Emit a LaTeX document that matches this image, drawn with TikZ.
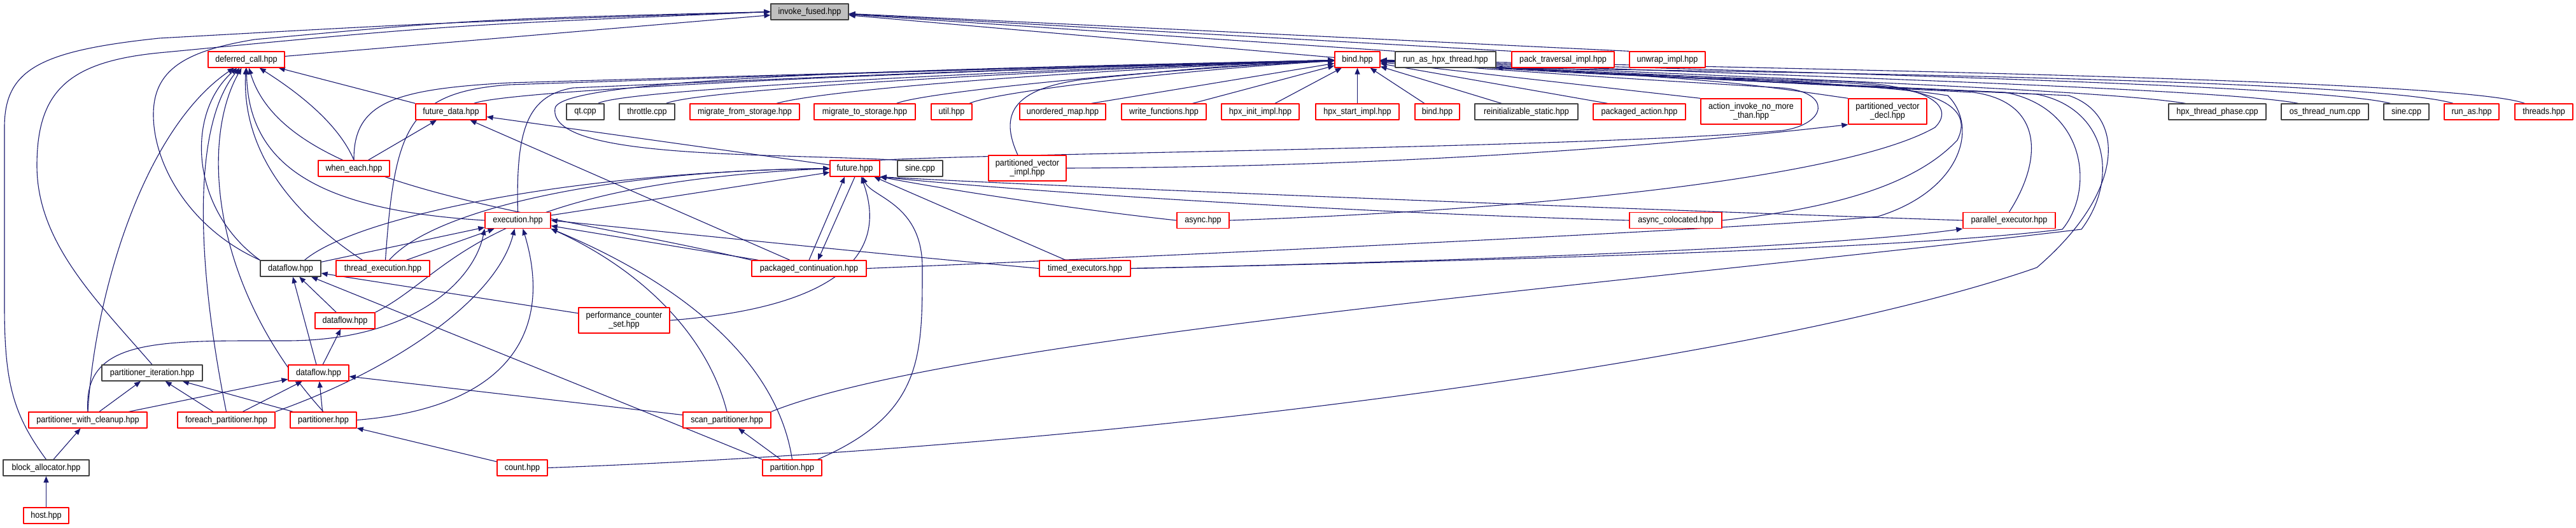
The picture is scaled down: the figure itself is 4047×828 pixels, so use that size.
\documentclass[tikz,border=0pt]{standalone}
\usepackage{fontspec}
\setmainfont{Liberation Sans}[FakeStretch=0.9]
\usepackage{tikz}
\usetikzlibrary{arrows.meta}
\newcommand{\hdrfont}{\fontsize{14}{14}\selectfont}
\pgfdeclarelayer{bg}
\pgfdeclarelayer{edges}
\pgfsetlayers{bg,edges,main}
\tikzset{
	>={Triangle[length=10pt, width=8pt]},
	hdrbox/.style={draw=hdrRed, line width=1.3pt, fill=white, font=\hdrfont, text=black,
		minimum height=25pt, inner xsep=3pt, inner ysep=1pt},
	srcbox/.style={hdrbox, draw=srcGray},
	rootbox/.style={hdrbox, draw=srcGray, fill=rootFill},
	twoline/.style={minimum height=40pt, align=center},
	dep/.style={draw=depBlue, line width=1.1pt, ->},
}
\begin{document}
\begin{tikzpicture}[x=1pt, y=-1pt, line cap=round, line join=round]
	
	% ---- Colors ----
	\definecolor{hdrRed}{RGB}{255,0,0}
	\definecolor{srcGray}{RGB}{64,64,64}
	\definecolor{rootFill}{RGB}{191,191,191}
	\definecolor{depBlue}{RGB}{25,25,112}
	
	\useasboundingbox (0,0) rectangle (4047,828);
	\begin{pgfonlayer}{bg}
		\fill[white] (0,0) rectangle (4047,828);
	\end{pgfonlayer}
	
	% ---- Root ----
	\node[rootbox, minimum width=122pt] (IF) at (1272,18.5) {invoke\_fused.hpp};
	
	% ---- Row 1 ----
	\node[hdrbox, minimum width=120pt] (DC) at (387,93.5) {deferred\_call.hpp};
	\node[hdrbox, minimum width=71pt] (B) at (2132.5,93.5) {bind.hpp};
	\node[srcbox, minimum width=158pt] (RAHT) at (2271,93.5) {run\_as\_hpx\_thread.hpp};
	\node[hdrbox, minimum width=161pt] (PTI) at (2455.5,93.5) {pack\_traversal\_impl.hpp};
	\node[hdrbox, minimum width=119pt] (UWI) at (2619.5,93.5) {unwrap\_impl.hpp};
	
	% ---- Row 2 ----
	\node[hdrbox, minimum width=111pt] (FD) at (708.5,175.5) {future\_data.hpp};
	\node[srcbox, minimum width=59pt] (QT) at (919.5,175.5) {qt.cpp};
	\node[srcbox, minimum width=87pt] (TH) at (1016.5,175.5) {throttle.cpp};
	\node[hdrbox, minimum width=172pt] (MFS) at (1170,175.5) {migrate\_from\_storage.hpp};
	\node[hdrbox, minimum width=159pt] (MTS) at (1358.5,175.5) {migrate\_to\_storage.hpp};
	\node[hdrbox, minimum width=64pt] (UT) at (1495,175.5) {util.hpp};
	\node[hdrbox, minimum width=135pt] (UM) at (1669.5,175.5) {unordered\_map.hpp};
	\node[hdrbox, minimum width=133pt] (WF) at (1828.5,175.5) {write\_functions.hpp};
	\node[hdrbox, minimum width=122pt] (HII) at (1980,175.5) {hpx\_init\_impl.hpp};
	\node[hdrbox, minimum width=131pt] (HSI) at (2132.5,175.5) {hpx\_start\_impl.hpp};
	\node[hdrbox, minimum width=70pt] (BB) at (2258,175.5) {bind.hpp};
	\node[srcbox, minimum width=162pt] (RS) at (2398,175.5) {reinitializable\_static.hpp};
	\node[hdrbox, minimum width=145pt] (PA) at (2575.5,175.5) {packaged\_action.hpp};
	\node[hdrbox, twoline, minimum width=158pt] (AINM) at (2751,175) {action\_invoke\_no\_more\\\_than.hpp};
	\node[hdrbox, twoline, minimum width=123pt] (PVD) at (2965.5,175) {partitioned\_vector\\\_decl.hpp};
	\node[srcbox, minimum width=153pt] (HTP) at (3483.5,175.5) {hpx\_thread\_phase.cpp};
	\node[srcbox, minimum width=137pt] (OTN) at (3652.5,175.5) {os\_thread\_num.cpp};
	\node[srcbox, minimum width=71pt] (SINE2) at (3780.5,175.5) {sine.cpp};
	\node[hdrbox, minimum width=86pt] (RA) at (3883,175.5) {run\_as.hpp};
	\node[hdrbox, minimum width=91pt] (THR) at (3996.5,175.5) {threads.hpp};
	
	% ---- Row 3 ----
	\node[hdrbox, minimum width=112pt] (WE) at (556,264.5) {when\_each.hpp};
	\node[hdrbox, minimum width=78pt] (F) at (1343,264.5) {future.hpp};
	\node[srcbox, minimum width=71pt] (SINE1) at (1445.5,264.5) {sine.cpp};
	\node[hdrbox, twoline, minimum width=122pt] (PVI) at (1614,264) {partitioned\_vector\\\_impl.hpp};
	
	% ---- Row 4 ----
	\node[hdrbox, minimum width=103pt] (E) at (813.5,346) {execution.hpp};
	\node[hdrbox, minimum width=82pt] (AS) at (1890,346) {async.hpp};
	\node[hdrbox, minimum width=145pt] (AC) at (2632.5,346) {async\_colocated.hpp};
	\node[hdrbox, minimum width=145pt] (PE) at (3156.5,346) {parallel\_executor.hpp};
	
	% ---- Row 5 ----
	\node[srcbox, minimum width=95pt] (DF) at (456.5,421.5) {dataflow.hpp};
	\node[hdrbox, minimum width=147pt] (TE) at (601.5,421.5) {thread\_execution.hpp};
	\node[hdrbox, minimum width=180pt] (PC) at (1271,421.5) {packaged\_continuation.hpp};
	\node[hdrbox, minimum width=143pt] (TEX) at (1704.5,421.5) {timed\_executors.hpp};
	
	% ---- Row 6 ----
	\node[hdrbox, minimum width=94pt] (DF2) at (542,503.5) {dataflow.hpp};
	\node[hdrbox, twoline, minimum width=143pt] (PCS) at (980.5,503) {performance\_counter\\\_set.hpp};
	
	% ---- Row 7 ----
	\node[srcbox, minimum width=158pt] (PI) at (239,585.5) {partitioner\_iteration.hpp};
	\node[hdrbox, minimum width=95pt] (DF3) at (500.5,585.5) {dataflow.hpp};
	
	% ---- Row 8 ----
	\node[hdrbox, minimum width=186pt] (PWC) at (138,659.5) {partitioner\_with\_cleanup.hpp};
	\node[hdrbox, minimum width=153pt] (FP) at (355.5,659.5) {foreach\_partitioner.hpp};
	\node[hdrbox, minimum width=104pt] (P) at (508,659.5) {partitioner.hpp};
	\node[hdrbox, minimum width=138pt] (SP) at (1142,659.5) {scan\_partitioner.hpp};
	
	% ---- Row 9 and 10 ----
	\node[srcbox, minimum width=135pt] (BA) at (72.5,734.5) {block\_allocator.hpp};
	\node[hdrbox, minimum width=79pt] (CNT) at (820.5,734.5) {count.hpp};
	\node[hdrbox, minimum width=93pt] (PTN) at (1244.5,734.5) {partition.hpp};
	\node[hdrbox, minimum width=71pt] (HOST) at (72.5,809.5) {host.hpp};
	
	\begin{pgfonlayer}{edges}
		% ---- Into invoke_fused ----
		\draw[dep] (DC) -- (IF);
		\draw[dep] (B) -- (IF);
		\draw[dep] (RAHT.north west) -- (IF);
		\draw[dep] (PTI.north west) -- (IF);
		\draw[dep] (UWI.north west) -- (IF);
		\draw[dep] (DF.north west) .. controls (300,360) and (241,260) .. (241,180)
			.. controls (241,110) and (290,80) .. (400,62) .. controls (750,30) .. (IF.west);
		\draw[dep] (PI.north) .. controls (150,470) and (58,380) .. (58,260)
			.. controls (58,140) and (110,95) .. (260,82) .. controls (700,40) .. (IF.west);
		\draw[dep] (BA.north) .. controls (20,650) and (7,600) .. (7,480) -- (7,200)
			.. controls (7,110) and (60,80) .. (250,60) .. controls (700,35) .. (IF.west);
		
		% ---- Into deferred_call ----
		\draw[dep] (PWC.north) .. controls (150,450) and (230,200) .. (DC);
		\draw[dep] (DF.north west) .. controls (300,330) and (290,180) .. (DC);
		\draw[dep] (FP.north) .. controls (310,420) and (300,200) .. (DC);
		\draw[dep] (P.north) .. controls (330,450) and (315,220) .. (DC);
		\draw[dep] ([xshift=-32pt]TE.north) .. controls (450,330) and (380,230) .. (DC);
		\draw[dep] (E.west) .. controls (500,330) and (390,260) .. (DC);
		\draw[dep] (PC.north west) .. controls (850,330) and (450,300) .. (DC);
		\draw[dep] (WE.north) .. controls (530,190) and (460,140) .. (DC);
		\draw[dep] (FD.north west) -- (DC);
		
		% ---- Into future_data ----
		\draw[dep] (WE) -- (FD);
		\draw[dep] (PC) -- (FD);
		\draw[dep] (F) -- (FD);
		
		% ---- Into bind, from the left ----
		\draw[dep] ([xshift=36pt]FD.north) .. controls (800,140) and (1500,110) .. (B);
		\draw[dep] ([xshift=20pt]QT.north) .. controls (980,140) and (1600,110) .. (B);
		\draw[dep] ([xshift=30pt]TH.north) .. controls (1100,140) and (1650,110) .. (B);
		\draw[dep] ([xshift=50pt]MFS.north) .. controls (1300,140) and (1700,110) .. (B);
		\draw[dep] ([xshift=50pt]MTS.north) .. controls (1450,145) and (1800,110) .. (B);
		\draw[dep] ([xshift=28pt]UT.north) .. controls (1560,145) and (1850,110) .. (B);
		\draw[dep] ([xshift=45pt]UM.north) -- (B);
		\draw[dep] ([xshift=45pt]WF.north) -- (B);
		\draw[dep] ([xshift=23pt]HII.north) -- (B);
		\draw[dep] (HSI) -- (B);
		\draw[dep] (BB) -- (B);
		\draw[dep] (E.north) .. controls (810,200) and (830,150) .. (900,138) .. controls (1500,112) .. (B);
		\draw[dep] (WE.north) .. controls (555,160) and (620,140) .. (800,130) .. controls (1500,110) .. (B);
		\draw[dep] ([xshift=4pt]TE.north) .. controls (620,200) and (640,145) .. (800,133) .. controls (1500,110) .. (B);
		\draw[dep] ([xshift=-15pt]PVI.north) .. controls (1570,180) and (1590,140) .. (1700,125) .. controls (1900,105) .. (B);
		\draw[dep] (SINE1.north west) .. controls (1200,240) and (860,250) .. (872,170)
			.. controls (880,120) and (1500,108) .. (B);
		
		% ---- Into bind, from the right ----
		\draw[dep] ([xshift=-39pt]RS.north) -- (B);
		\draw[dep] ([xshift=-50pt]PA.north) -- (B);
		\draw[dep] (AINM.north west) -- (B);
		\draw[dep] (PVD.north west) .. controls (2700,125) .. (B);
		\draw[dep] ([xshift=-50pt]HTP.north) .. controls (3300,140) and (2700,120) .. (B);
		\draw[dep] ([xshift=-42pt]OTN.north) .. controls (3500,140) and (2800,118) .. (B);
		\draw[dep] ([xshift=-25pt]SINE2.north) .. controls (3650,135) and (2900,115) .. (B);
		\draw[dep] ([xshift=-29pt]RA.north) .. controls (3750,130) and (3000,115) .. (RAHT.south east);
		\draw[dep] ([xshift=-30pt]THR.north) .. controls (3880,130) and (3100,112) .. (B);
		\draw[dep] (F.north east) .. controls (1600,240) and (2500,232) .. (2800,205)
			.. controls (2870,195) and (2880,145) .. (2800,138) .. controls (2500,120) .. (B);
		\draw[dep] (AS.east) .. controls (2400,330) and (2900,280) .. (3040,200)
			.. controls (3070,170) and (3040,135) .. (2900,128) .. controls (2500,115) .. (B);
		\draw[dep] (AC.east) .. controls (2850,330) and (3000,300) .. (3075,220)
			.. controls (3100,170) and (3050,140) .. (2900,130) .. controls (2500,117) .. (B);
		\draw[dep] (PC.east) .. controls (2000,395) and (2800,355) .. (2950,340)
			.. controls (3080,300) and (3110,200) .. (3060,150) .. controls (2900,125) and (2500,115) .. (B);
		\draw[dep] (PE.north) .. controls (3210,250) and (3210,160) .. (3100,145) .. controls (2600,120) .. (B);
		\draw[dep] (TEX.east) .. controls (2400,408) and (3000,390) .. (3240,360)
			.. controls (3290,300) and (3280,170) .. (3150,145) .. controls (2600,120) .. (B);
		\draw[dep] (SP.north east) .. controls (1500,530) and (2600,440) .. (3270,360)
			.. controls (3330,280) and (3310,170) .. (3200,148) .. controls (2600,120) .. (B);
		\draw[dep] (CNT.east) .. controls (1800,700) and (2800,560) .. (3200,420)
			.. controls (3340,300) and (3340,180) .. (3250,150) .. controls (2600,120) .. (B);
		\draw[dep] (TEX.east) .. controls (2400,408) and (2900,385) .. (PE.south west);
		\draw[dep] (PVI.east) .. controls (2200,262) and (2600,230) .. (PVD.south west);
		
		% ---- Into future ----
		\draw[dep] (E) -- (F);
		\draw[dep] ([xshift=22pt]DF.north) .. controls (560,340) and (900,270) .. (F.west);
		\draw[dep] ([xshift=10pt]TE.north) .. controls (680,330) and (950,268) .. (F.west);
		\draw[dep] (DF2.north east) .. controls (710,430) and (750,290) .. (F.west);
		\draw[dep] (PC.north) -- ([xshift=-16pt]F.south);
		\draw[dep] (F.south) -- ([xshift=14pt]PC.north);
		\draw[dep] ([xshift=40pt]PTN.north) .. controls (1450,650) and (1449,560) .. (1449,420)
			.. controls (1449,320) and (1370,310) .. ([xshift=12pt]F.south);
		\draw[dep] (PCS.east) .. controls (1350,480) and (1390,380) .. ([xshift=10pt]F.south);
		\draw[dep] (AS.west) .. controls (1700,330) and (1500,300) .. (F.south east);
		\draw[dep] (AC.west) .. controls (2100,333) and (1600,300) .. (F.south east);
		\draw[dep] (PE.west) .. controls (2600,330) and (1700,295) .. (F.south east);
		\draw[dep] (TEX) -- (F);
		
		% ---- Into execution ----
		\draw[dep] (TEX.west) .. controls (1400,400) .. (E.east);
		\draw[dep] (DF) -- (E);
		\draw[dep] (TE) -- (E);
		\draw[dep] (PC) -- (E);
		\draw[dep] (PWC.north) .. controls (130,530) and (250,535) .. (450,535)
			.. controls (650,535) and (745,440) .. (E.south west);
		\draw[dep] (FP.north east) .. controls (620,580) and (780,470) .. ([xshift=-5pt]E.south);
		\draw[dep] (P.east) .. controls (800,640) and (870,520) .. ([xshift=8pt]E.south);
		\draw[dep] (SP.north) .. controls (1110,520) and (1000,420) .. (E.south east);
		\draw[dep] (PTN.north) .. controls (1220,560) and (1060,440) .. (E.south east);
		
		% ---- Into the dataflow headers ----
		\draw[dep] (PTN.north west) .. controls (1060,665) and (750,540) .. (DF);
		\draw[dep] (PCS) -- (DF);
		\draw[dep] (DF3) -- (DF);
		\draw[dep] (DF2) -- (DF);
		\draw[dep] (DF3) -- (DF2);
		\draw[dep] (PWC) -- (DF3);
		\draw[dep] (FP) -- (DF3);
		\draw[dep] (P) -- (DF3);
		\draw[dep] (SP) -- (DF3);
		
		% ---- Partitioners and allocators ----
		\draw[dep] (PWC) -- (PI);
		\draw[dep] (FP) -- (PI);
		\draw[dep] (P) -- (PI);
		\draw[dep] (BA) -- (PWC);
		\draw[dep] (HOST) -- (BA);
		\draw[dep] (CNT) -- (P);
		\draw[dep] (PTN) -- (SP);
	\end{pgfonlayer}
	
\end{tikzpicture}
\end{document}
